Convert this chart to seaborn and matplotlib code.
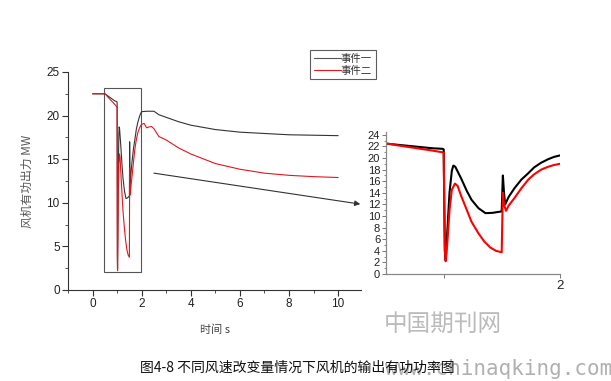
import numpy as np
import pandas as pd
import matplotlib
matplotlib.use("Agg")
import matplotlib.pyplot as plt
import seaborn as sns
from matplotlib.patches import Rectangle
from matplotlib.lines import Line2D
from matplotlib.ticker import MultipleLocator

# ---- data ----
t1 = [0, 0.5, 0.55, 0.6, 0.7, 0.8, 0.9, 0.99, 1.0, 1.005, 1.01, 1.017, 1.03, 1.05,
      1.07, 1.083, 1.1, 1.15, 1.2, 1.24, 1.3, 1.36, 1.42, 1.5, 1.505, 1.51, 1.52,
      1.53, 1.56, 1.61, 1.67, 1.73, 1.78, 1.84, 1.9, 1.95, 2.0, 2.2, 2.5, 2.7, 3.0,
      3.5, 4, 5, 6, 7, 8, 9, 10]
p1 = [22.5, 22.5, 22.4, 22.3, 22.1, 21.9, 21.7, 21.6, 21.5, 12.0, 4.0, 2.4, 7.0, 14.0,
      17.8, 18.7, 18.5, 16.5, 14.3, 12.8, 11.35, 10.5, 10.55, 10.8, 14.0, 17.0, 14.0,
      12.0, 13.3, 14.8, 16.3, 17.4, 18.4, 19.2, 19.8, 20.2, 20.45, 20.5, 20.5, 20.1, 19.8,
      19.3, 18.9, 18.4, 18.1, 17.95, 17.8, 17.75, 17.7]

t2 = [0, 0.5, 0.55, 0.6, 0.7, 0.8, 0.9, 0.99, 1.0, 1.005, 1.01, 1.017, 1.03, 1.05,
      1.07, 1.097, 1.12, 1.15, 1.2, 1.24, 1.3, 1.35, 1.4, 1.45, 1.5, 1.505, 1.51, 1.52,
      1.537, 1.56, 1.61, 1.67, 1.73, 1.78, 1.84, 1.9, 1.95, 2.0, 2.1, 2.2, 2.3, 2.4,
      2.5, 2.7, 3.0, 3.5, 4, 5, 6, 7, 8, 9, 10]
p2 = [22.5, 22.5, 22.4, 22.2, 21.9, 21.6, 21.3, 21.0, 20.9, 12.0, 4.0, 2.2, 5.0, 11.0,
      14.5, 15.6, 15.2, 13.5, 11.0, 9.0, 7.0, 5.6, 4.6, 4.0, 3.75, 9.0, 14.0, 12.0,
      10.9, 11.8, 13.1, 14.8, 16.3, 17.2, 18.0, 18.5, 18.8, 19.0, 19.1, 18.6, 18.7, 18.75,
      18.5, 17.6, 17.2, 16.3, 15.6, 14.5, 13.85, 13.4, 13.15, 13.0, 12.9]

labels = ["事件一", "事件二"]
main_xticks = [0, 2, 4, 6, 8, 10]
main_yticks = [0, 5, 10, 15, 20, 25]
inset_yticks = list(range(0, 25, 2))
caption = "图4-8 不同风速改变量情况下风机的输出有功功率图"

df = pd.concat([
    pd.DataFrame({"t": t1, "p": p1, "event": labels[0]}),
    pd.DataFrame({"t": t2, "p": p2, "event": labels[1]}),
], ignore_index=True)

sns.set_theme(style="white")
plt.rcParams["font.family"] = ["Liberation Sans", "Noto Sans CJK SC", "DejaVu Sans"]

W, H = 611, 381
fig = plt.figure(figsize=(W / 100, H / 100), dpi=100)

def ax_rect(l, r, t, b):
    return [l / W, 1 - b / H, (r - l) / W, (b - t) / H]

axc = "#333333"

# ---- main axes ----
ax = fig.add_axes(ax_rect(68, 361, 72, 290))
sns.lineplot(data=df, x="t", y="p", hue="event", palette=["#333333", "#e8141c"],
             linewidth=0.8, ax=ax, legend=False, sort=False, estimator=None)
ax.set_xlim(-1, 10.93)
ax.set_ylim(0, 25)
ax.set_xticks(main_xticks)
ax.set_yticks(main_yticks)
ax.xaxis.set_minor_locator(MultipleLocator(1))
ax.yaxis.set_minor_locator(MultipleLocator(2.5))
ax.tick_params(which="major", direction="out", length=4, width=0.8, color=axc,
               labelsize=8.5, labelcolor="#222222", pad=2, bottom=True, left=True)
ax.tick_params(which="minor", direction="out", length=2, width=0.6, color=axc,
               bottom=True, left=True)
for s in ["top", "right"]:
    ax.spines[s].set_visible(False)
for s in ["left", "bottom"]:
    ax.spines[s].set_color(axc)
    ax.spines[s].set_linewidth(0.8)
ax.set_xlabel("时间 s", fontsize=8, color="#444444", labelpad=10,
              family=["Noto Sans CJK SC", "DejaVu Sans"])
ax.set_ylabel("风机有功出力 MW", fontsize=8.5, color="#555555", labelpad=9,
              family=["Noto Sans CJK SC", "DejaVu Sans"])

ax.add_patch(Rectangle((0.47, 2.05), 1.5, 21.1, fill=False, edgecolor="#555555", lw=0.8))
ax.annotate("", xy=(10.9, 9.85), xytext=(2.5, 13.4), annotation_clip=False,
            arrowprops=dict(arrowstyle="-|>", color="#333333", lw=0.8,
                            mutation_scale=8, shrinkA=0, shrinkB=0))

# legend
handles = [Line2D([], [], color="#555555", lw=0.8), Line2D([], [], color="#e8141c", lw=0.8)]
leg = fig.legend(handles, labels, loc="upper left", bbox_to_anchor=(305 / W, 1 - 45 / H),
                 frameon=True, fancybox=False, handlelength=2.6,
                 handletextpad=0.0, borderpad=0.35, labelspacing=0.15,
                 prop={"family": ["Noto Sans CJK SC"], "size": 7.5})
leg.get_frame().set_edgecolor("#333333")
leg.get_frame().set_linewidth(0.8)
for txt in leg.get_texts():
    txt.set_color("#333333")

# ---- inset axes ----
ax2 = fig.add_axes(ax_rect(385.7, 559.7, 132, 274))
sns.lineplot(data=df, x="t", y="p", hue="event", palette=["#000000", "#ff0000"],
             linewidth=1.5, ax=ax2, legend=False, sort=False, estimator=None)
ax2.set_xlim(0.5, 2.0)
ax2.set_ylim(0, 24.5)
ax2.set_xticks([1, 2])
ax2.set_xticklabels(["", "2"], fontsize=9.5)
ax2.set_yticks(inset_yticks)
ax2.yaxis.set_minor_locator(MultipleLocator(1))
ax2.tick_params(axis="y", which="major", direction="out", length=3, width=0.7,
                color="#777777", labelsize=8, labelcolor="#222222", pad=1, left=True)
ax2.tick_params(axis="x", which="major", direction="out", length=3, width=0.7,
                color="#777777", labelcolor="#222222", pad=1, bottom=True)
ax2.tick_params(which="minor", direction="out", length=1.5, width=0.6, color="#777777",
                left=True)
for s in ["top", "right"]:
    ax2.spines[s].set_visible(False)
for s in ["left", "bottom"]:
    ax2.spines[s].set_color("#888888")
    ax2.spines[s].set_linewidth(0.9)
ax2.set_xlabel("")
ax2.set_ylabel("")

# ---- caption & watermark ----
fig.text(384 / W, 1 - 324 / H, "中国期刊网", fontsize=17, color="#bbbbbb", ha="left",
         va="center", family=["Noto Sans CJK SC"], fontweight="light")
fig.text(612 / W, 1 - 369 / H, "www.chinaqking.com", fontsize=15, color="#b0b0b0",
         ha="right", va="center", family=["DejaVu Sans Mono"])
fig.text(140 / W, 1 - 368 / H, caption, fontsize=10, color="#111111", ha="left",
         va="center", family=["Noto Sans CJK SC", "DejaVu Sans"])

fig.savefig("out.png", dpi=100)
